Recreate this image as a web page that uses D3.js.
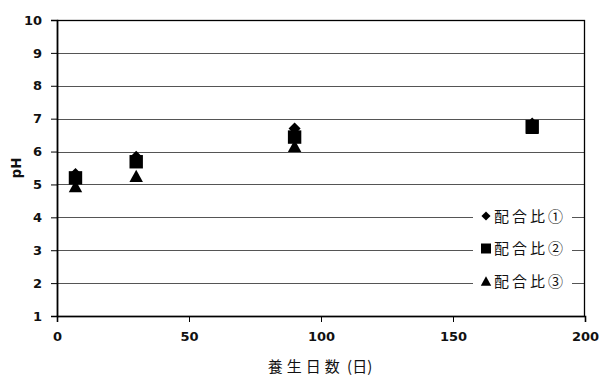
<!DOCTYPE html>
<html><head><meta charset="utf-8">
<script src="https://cdn.jsdelivr.net/npm/d3@7"></script>
<style>body{margin:0;background:#fff}svg{display:block}</style>
</head><body><svg id="c" width="599" height="376"></svg>
<script>
const days = [7, 30, 90, 180];
const series1 = [5.32, 5.84, 6.7, 6.85];
const series2 = [5.2, 5.69, 6.44, 6.76];
const series3 = [4.95, 5.26, 6.17, 6.72];
const seriesNames = ["配合比①", "配合比②", "配合比③"];
const xTicks = [0, 50, 100, 150, 200];
const yTicks = [1, 2, 3, 4, 5, 6, 7, 8, 9, 10];

const svg = d3.select("#c");
const L = 57, R = 585, T = 20, B = 316;
const x = d3.scaleLinear().domain([0, 200]).range([L, R]);
const y = d3.scaleLinear().domain([1, 10]).range([B, T]);

// gridlines
svg.append("g").selectAll("line").data(yTicks.slice(1, -1)).join("line")
  .attr("x1", L).attr("x2", R).attr("y1", d => Math.round(y(d)) + 0.5).attr("y2", d => Math.round(y(d)) + 0.5)
  .attr("stroke", "#555").attr("stroke-width", 1);

// border
svg.append("rect").attr("x", L + 0.5).attr("y", T + 0.5).attr("width", R - L - 1).attr("height", B - T)
  .attr("fill", "none").attr("stroke", "#000").attr("stroke-width", 1.3);

// axes
const yAxis = d3.axisLeft(y).tickValues(yTicks).tickSize(6).tickPadding(9).tickFormat(d3.format("d"));
const gy = svg.append("g").attr("transform", `translate(${L},0)`).call(yAxis);
const xAxis = d3.axisBottom(x).tickValues(xTicks).tickSize(6).tickPadding(10).tickFormat(d3.format("d"));
const gx = svg.append("g").attr("transform", `translate(0,${B})`).call(xAxis);
[gx, gy].forEach(g => {
  g.select(".domain").attr("stroke", "#000").attr("stroke-width", 1.6);
  g.selectAll(".tick line").attr("stroke", "#000");
  g.selectAll("text").attr("font-family", "'DejaVu Sans'").attr("font-weight", "bold")
    .attr("font-size", 13).attr("fill", "#111");
});

// titles
const xt = svg.append("text").attr("x", 320).attr("y", 372).attr("text-anchor", "middle")
  .attr("font-family", "'Noto Sans CJK JP'").attr("font-size", 15).attr("fill", "#111");
xt.append("tspan").attr("letter-spacing", 4).text("養生日数");
xt.append("tspan").text(" (日)");
svg.append("text").attr("transform", "translate(21,168) rotate(-90)").attr("text-anchor", "middle")
  .attr("font-family", "'DejaVu Sans'").attr("font-weight", "bold").attr("font-size", 13.5).attr("fill", "#111")
  .text("pH");

// markers
const sym = (i, s) => {
  if (i === 0) { // diamond
    const h = Math.sqrt(s);
    return `M0,${-h * 0.72}L${h * 0.72},0L0,${h * 0.72}L${-h * 0.72},0Z`;
  }
  if (i === 1) { const h = Math.sqrt(s) / 2; return `M${-h},${-h}H${h}V${h}H${-h}Z`; }
  const h = Math.sqrt(s);
  return `M0,${-h * 0.5}L${h * 0.55},${h * 0.5}L${-h * 0.55},${h * 0.5}Z`;
};
const sizes = [70, 180, 150];
const all = [series1, series2, series3];
all.forEach((vals, i) => {
  svg.append("g").selectAll("path").data(days.map((d, k) => [d, vals[k]])).join("path")
    .attr("transform", d => `translate(${x(d[0])},${y(d[1])})`)
    .attr("d", sym(i, sizes[i])).attr("fill", "#000");
});

// legend
const lg = svg.append("g");
lg.append("rect").attr("x", 473).attr("y", 200).attr("width", 99).attr("height", 96).attr("fill", "#fff");
const ly = [216, 248.5, 281];
const lsizes = [40, 100, 90];
seriesNames.forEach((n, i) => {
  lg.append("path").attr("transform", `translate(486,${ly[i]})`).attr("d", sym(i, lsizes[i])).attr("fill", "#000");
  lg.append("text").attr("x", 494).attr("y", ly[i] + 5.5).attr("font-family", "'Noto Sans CJK JP'")
    .attr("font-size", 15).attr("letter-spacing", 3).attr("fill", "#111").text(n);
});
</script></body></html>
